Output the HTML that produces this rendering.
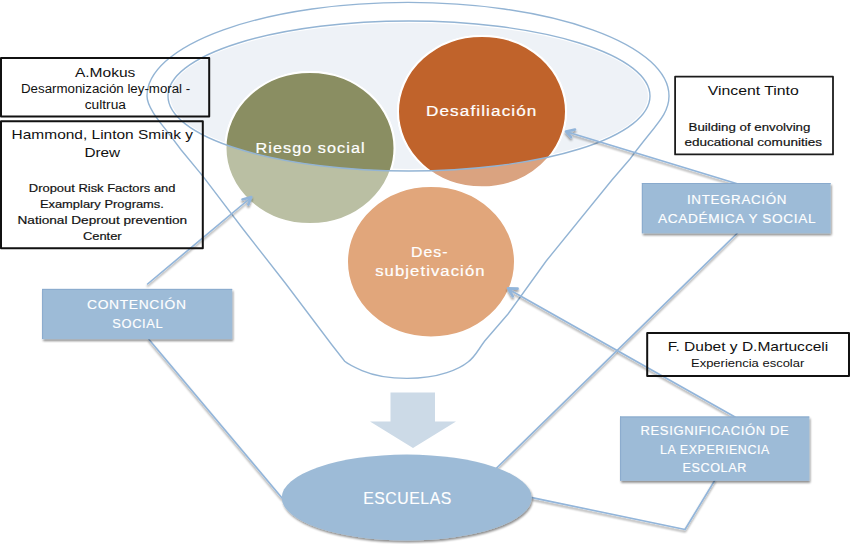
<!DOCTYPE html>
<html><head><meta charset="utf-8">
<style>
html,body{margin:0;padding:0;background:#fff;width:850px;height:544px;overflow:hidden}
svg{display:block;font-family:"Liberation Sans",sans-serif}
.blk{fill:#111}
.sm{stroke:#111;stroke-width:0.18px}
.wt{fill:#fff;stroke:#fff;stroke-width:0.15px}
.wt .bw{stroke-width:0.22px;letter-spacing:1px}
.wt{letter-spacing:0.6px}
</style></head>
<body>
<svg width="850" height="544" viewBox="0 0 850 544">
<defs>
  <clipPath id="inEl"><ellipse cx="409" cy="96" rx="241" ry="75"/></clipPath>
  <filter id="sh" x="-10%" y="-10%" width="130%" height="140%">
    <feGaussianBlur in="SourceAlpha" stdDeviation="1"/>
    <feOffset dx="1" dy="2" result="b"/>
    <feComponentTransfer><feFuncA type="linear" slope="0.45"/></feComponentTransfer>
    <feMerge><feMergeNode/><feMergeNode in="SourceGraphic"/></feMerge>
  </filter>
  <filter id="shl" x="-10%" y="-10%" width="130%" height="140%">
    <feMorphology in="SourceAlpha" operator="dilate" radius="0.4"/>
    <feGaussianBlur stdDeviation="1"/>
    <feOffset dx="0.3" dy="2" result="b"/>
    <feComponentTransfer><feFuncA type="linear" slope="0.42"/></feComponentTransfer>
    <feMerge><feMergeNode/><feMergeNode in="SourceGraphic"/></feMerge>
  </filter>
</defs>
<rect width="850" height="544" fill="#fff"/>

<!-- inner ellipse fill -->
<ellipse cx="409" cy="96" rx="239" ry="73" fill="#eef2f7"/>

<!-- circles light (outside) -->
<g stroke="#fff" stroke-width="2">
  <ellipse cx="310" cy="148" rx="84.5" ry="76" fill="#babfa3"/>
  <ellipse cx="482" cy="111.6" rx="84" ry="75.7" fill="#daa380"/>
  <ellipse cx="431" cy="261.7" rx="84" ry="75.7" fill="#e1a67b"/>
</g>
<!-- circles dark (inside ellipse) -->
<g clip-path="url(#inEl)" stroke="#fff" stroke-width="2">
  <ellipse cx="310" cy="148" rx="84.5" ry="76" fill="#8a8e62"/>
  <ellipse cx="482" cy="111.6" rx="84" ry="75.7" fill="#c0632b"/>
</g>

<!-- ellipse outline -->
<ellipse cx="409" cy="96" rx="241" ry="75" fill="none" stroke="#93b4d4" stroke-width="1.4"/>

<!-- funnel outline -->
<path d="M147,96 A261,93.6 0 0 1 669,96 C669,115 655,125 630,159 L611.9,180 L546.2,261 L508,314 L484.7,341 C478,350 475,357 468,362 C460,368.5 440,378.4 407,378.4 C385,378.4 370,374 362,370.6 C354,367 348,364 344.7,361.2 L331.8,344.7 L285.6,283.5 L243.4,229.5 L203,176.4 L181.2,150 L169.4,134.3 C162,124.5 147,108 147,96 Z" fill="none" stroke="#93b4d4" stroke-width="1.4"/>

<!-- down arrow -->
<path d="M390.5,392.5 H435 V421.5 H456 L413,448 L370,421.5 H390.5 Z" fill="#ccdae7"/>

<!-- connectors -->
<g fill="none" stroke="#92b5da" stroke-width="1.6" filter="url(#shl)" stroke-linecap="round" stroke-linejoin="round">
  <path d="M738,184 L566.5,131.8"/>
  <path d="M737,233.5 L495.6,469"/>
  <path d="M147.6,284 L251,197.5"/>
  <path d="M149,339.5 L282,498"/>
  <path d="M735,417 L509,289.5"/>
  <path d="M715,480 L685,529.5 L532,497.6"/>
  <g stroke-width="2.6">
    <path d="M575,129.6 L566,131.5 L571,137.2"/>
    <path d="M242.5,199.4 L251.3,197.1 L248.3,204.6"/>
    <path d="M517.6,288.6 L508,288.4 L512.8,296.4"/>
  </g>
</g>

<!-- ESCUELAS -->
<ellipse cx="406.7" cy="497.6" rx="125" ry="43" fill="#9dbbd7" filter="url(#sh)"/>

<!-- blue boxes -->
<g fill="#9dbbd7" filter="url(#sh)">
  <rect x="641.9" y="183" width="188.7" height="50.3"/>
  <rect x="42.1" y="288.9" width="190.1" height="50.2"/>
  <rect x="620.1" y="416.5" width="189.2" height="64.3"/>
</g>

<g stroke="#89aacd" stroke-width="1" fill="none">
  <path d="M42.1,289.4 H232.2 M42.6,289 V339"/>
  <path d="M641.9,183.5 H830.6 M642.4,183 V233.3"/>
  <path d="M620.1,417 H809.3 M620.6,416.5 V480.8"/>
</g>

<!-- outlined boxes -->
<g fill="none" stroke="#111" stroke-width="2" stroke-linejoin="round">
  <rect x="1" y="58.1" width="208.2" height="58.5"/>
  <rect x="1" y="121.2" width="201.8" height="127"/>
  <rect x="675.1" y="76.7" width="157.9" height="77.7" stroke="#1c1c1c" stroke-width="1.8"/>
  <rect x="647.2" y="333" width="201.8" height="42.9"/>
</g>

<!-- black texts -->
<g class="blk" font-size="13">
  <text x="74.9" y="76.7" textLength="60.5" lengthAdjust="spacingAndGlyphs">A.Mokus</text>
  <text x="21" y="93.3" font-size="12" textLength="169.2" lengthAdjust="spacingAndGlyphs">Desarmonización ley-moral -</text>
  <text x="84.7" y="108.9" font-size="12" textLength="41.3" lengthAdjust="spacingAndGlyphs">cultrua</text>

  <text x="11.6" y="138.7" textLength="181.4" lengthAdjust="spacingAndGlyphs">Hammond, Linton Smink y</text>
  <text x="84.4" y="156.7" textLength="35.8" lengthAdjust="spacingAndGlyphs">Drew</text>
  <text class="sm" x="28.8" y="192.2" font-size="11" textLength="146.7" lengthAdjust="spacingAndGlyphs">Dropout Risk Factors and</text>
  <text class="sm" x="39.9" y="208.2" font-size="11" textLength="124" lengthAdjust="spacingAndGlyphs">Examplary Programs.</text>
  <text class="sm" x="17.5" y="224.4" font-size="11" textLength="169.6" lengthAdjust="spacingAndGlyphs">National Deprout prevention</text>
  <text class="sm" x="82.9" y="240.3" font-size="11" textLength="38.8" lengthAdjust="spacingAndGlyphs">Center</text>

  <text x="707.7" y="95" textLength="91.1" lengthAdjust="spacingAndGlyphs">Vincent Tinto</text>
  <text class="sm" x="688.6" y="131" font-size="11" textLength="121.8" lengthAdjust="spacingAndGlyphs">Building of envolving</text>
  <text class="sm" x="684.4" y="145.8" font-size="11" textLength="137.6" lengthAdjust="spacingAndGlyphs">educational comunities</text>

  <text x="667.7" y="350.9" textLength="160.5" lengthAdjust="spacingAndGlyphs">F. Dubet y D.Martucceli</text>
  <text x="691" y="367.4" font-size="11" textLength="113.3" lengthAdjust="spacingAndGlyphs">Experiencia escolar</text>
</g>

<!-- white texts -->
<g class="wt" font-size="12.5">
  <text x="687" y="204.4" textLength="100" lengthAdjust="spacingAndGlyphs">INTEGRACIÓN</text>
  <text x="658" y="223" textLength="158.3" lengthAdjust="spacingAndGlyphs">ACADÉMICA Y SOCIAL</text>
  <text x="87" y="309.3" textLength="99.6" lengthAdjust="spacingAndGlyphs">CONTENCIÓN</text>
  <text x="112.3" y="328.2" textLength="51" lengthAdjust="spacingAndGlyphs">SOCIAL</text>
  <text x="640.5" y="434.8" textLength="148.9" lengthAdjust="spacingAndGlyphs">RESIGNIFICACIÓN DE</text>
  <text x="660" y="453.6" textLength="109.9" lengthAdjust="spacingAndGlyphs">LA EXPERIENCIA</text>
  <text x="682.4" y="471.8" textLength="64.6" lengthAdjust="spacingAndGlyphs">ESCOLAR</text>
  <text x="363.2" y="504.2" font-size="17" textLength="88.6" lengthAdjust="spacingAndGlyphs">ESCUELAS</text>

  <text class="bw" x="255.6" y="153.3" font-size="15.5" textLength="110" lengthAdjust="spacingAndGlyphs">Riesgo social</text>
  <text class="bw" x="426" y="116.4" font-size="15.5" textLength="111.5" lengthAdjust="spacingAndGlyphs">Desafiliación</text>
  <text class="bw" x="411" y="257.2" font-size="15.5" textLength="37.5" lengthAdjust="spacingAndGlyphs">Des-</text>
  <text class="bw" x="375.2" y="275.6" font-size="15.5" textLength="110.4" lengthAdjust="spacingAndGlyphs">subjetivación</text>
</g>
</svg>
</body></html>
